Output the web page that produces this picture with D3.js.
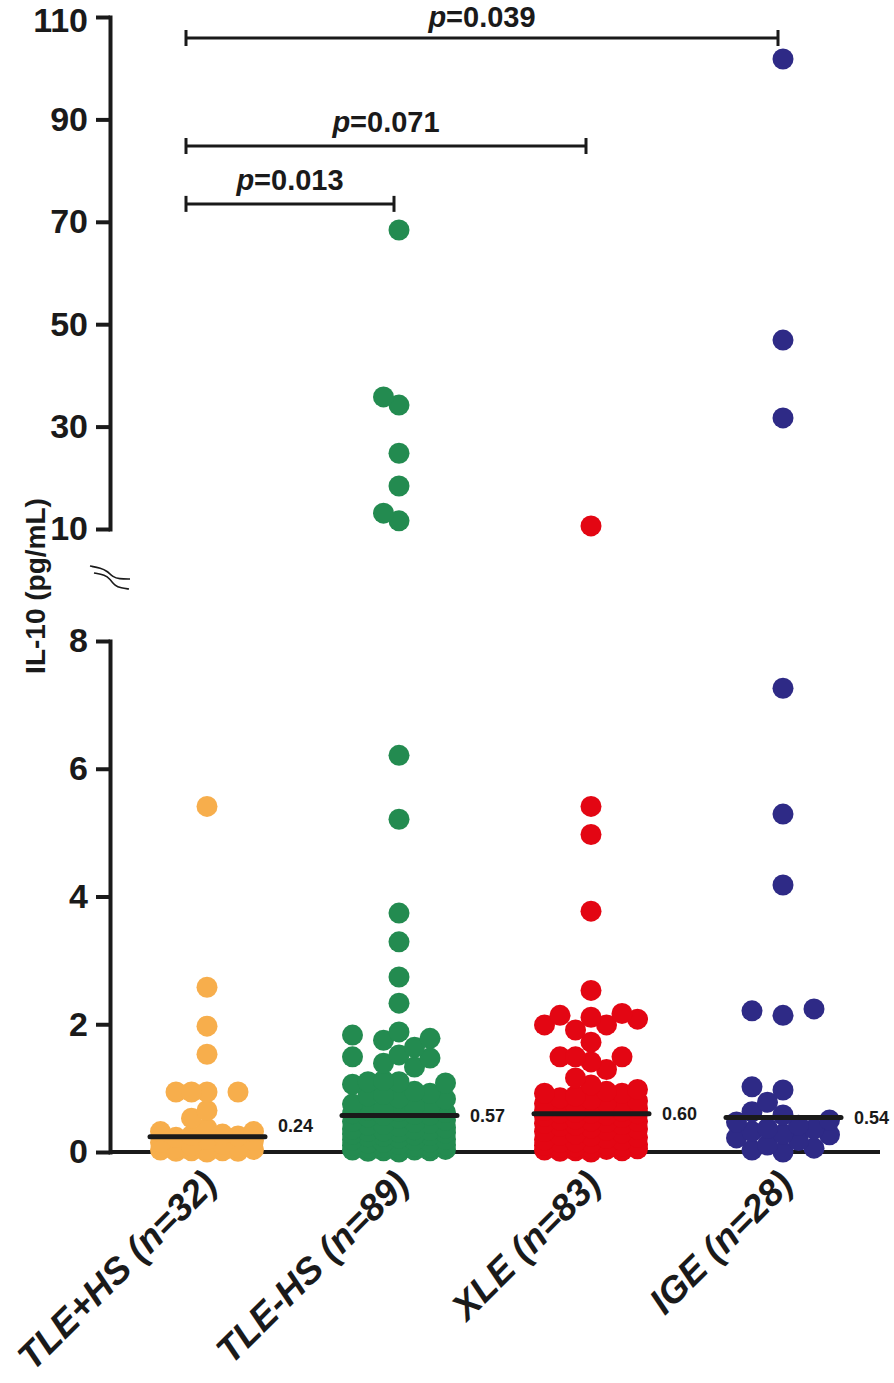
<!DOCTYPE html>
<html>
<head>
<meta charset="utf-8">
<script src="https://cdn.jsdelivr.net/npm/d3@7"></script>
<style>
  html, body { margin: 0; padding: 0; background: #ffffff; }
  svg { display: block; }
  text { font-family: "Liberation Sans", Arial, Helvetica, sans-serif; fill: #1a1a1a; }
</style>
</head>
<body>
<script>
// ---------------- data ----------------
const categories = ["TLE+HS (n=32)", "TLE-HS (n=89)", "XLE (n=83)", "IGE (n=28)"];

const tleHsPos = [5.41, 2.58, 1.97, 1.53, 0.94, 0.94, 0.94, 0.94, 0.65, 0.53, 0.37, 0.32, 0.32, 0.28, 0.26, 0.25,
  0.23, 0.20, 0.18, 0.15, 0.12, 0.10, 0.08, 0.06, 0.05, 0.04, 0.03, 0.02, 0.02, 0.01, 0.01, 0.00];

const tleHsNeg = [68.4, 35.8, 34.2, 24.8, 18.4, 13.1, 11.6,
  6.21, 5.21, 3.74, 3.29, 2.74, 2.33, 1.88, 1.83, 1.78, 1.75, 1.64, 1.52, 1.49, 1.47, 1.39, 1.33,
  1.12, 1.10, 1.10, 1.08, 1.06,
  0.95, 0.92, 0.90, 0.88, 0.85, 0.83,
  0.75, 0.72, 0.70, 0.68, 0.66, 0.64, 0.62, 0.60, 0.59, 0.58, 0.57,
  0.55, 0.53, 0.50, 0.48, 0.46, 0.45, 0.43, 0.42, 0.40, 0.38, 0.36, 0.35, 0.34, 0.33, 0.32,
  0.31, 0.30, 0.28, 0.27, 0.26, 0.25, 0.24, 0.22, 0.20, 0.19, 0.18, 0.16, 0.15, 0.14, 0.12,
  0.11, 0.10, 0.09, 0.08, 0.07, 0.06, 0.05, 0.04, 0.03, 0.03, 0.02, 0.02, 0.01, 0.00];

const xle = [10.6,
  5.41, 4.97, 3.77, 2.53,
  2.17, 2.14, 2.11, 2.08, 1.99, 1.99, 1.91, 1.72, 1.49, 1.49, 1.49, 1.41, 1.29, 1.16,
  1.05, 0.98, 0.95, 0.92, 0.92, 0.88, 0.85, 0.82, 0.80, 0.78, 0.76, 0.75, 0.73, 0.72, 0.70,
  0.68, 0.67, 0.65, 0.64, 0.62, 0.61, 0.61, 0.60,
  0.58, 0.56, 0.54, 0.52, 0.50, 0.49, 0.48, 0.46, 0.45, 0.43, 0.42, 0.40, 0.38, 0.36, 0.34,
  0.32, 0.30, 0.28, 0.26, 0.25, 0.23, 0.21, 0.19, 0.18, 0.16, 0.15, 0.14, 0.12, 0.11, 0.10,
  0.09, 0.08, 0.07, 0.06, 0.05, 0.04, 0.03, 0.02, 0.02, 0.01, 0.00];

const ige = [101.8, 46.9, 31.7, 7.26, 5.29, 4.18, 2.24, 2.21, 2.14, 1.02, 0.97, 0.78, 0.63, 0.58,
  0.50, 0.47, 0.42, 0.37, 0.36, 0.32, 0.28, 0.27, 0.22, 0.18, 0.11, 0.06, 0.03, 0.00];

const groupValues = [tleHsPos, tleHsNeg, xle, ige];
const medians = [0.24, 0.57, 0.60, 0.54];
const colors = ["#F7AE4C", "#238B50", "#E30613", "#2E2A86"];

const lowerTicks = [0, 2, 4, 6, 8];
const upperTicks = [10, 30, 50, 70, 90, 110];

const comparisons = [
  { from: 0, to: 3, y: 105.9, p: "0.039" },
  { from: 0, to: 2, y: 84.8, p: "0.071" },
  { from: 0, to: 1, y: 73.5, p: "0.013" }
];

// ---------------- layout ----------------
const W = 894, H = 1383;
const axisX = 110;
const yLow = d3.scaleLinear().domain([0, 8]).range([1152, 641]);
const yHigh = d3.scaleLinear().domain([10, 110]).range([529, 17]);
const y = v => (v <= 8 ? yLow(v) : yHigh(v));
const x = d3.scalePoint().domain(categories).range([207, 783]);

const ink = "#1a1a1a";
const ASCENT = 0.905; // font ascent ratio, keeps top texts inside the canvas
const svg = d3.select("body").append("svg").attr("width", W).attr("height", H);
svg.append("rect").attr("width", W).attr("height", H).attr("fill", "#fff");

// y axes (broken)
const tickFont = 34;
function styleAxis(g) {
  g.select(".domain").attr("stroke", ink).attr("stroke-width", 4).attr("stroke-linecap", "square");
  g.selectAll(".tick line").attr("stroke", ink).attr("stroke-width", 4);
  g.selectAll(".tick text").attr("fill", ink)
    .style("font-size", tickFont + "px").style("font-weight", "bold")
    .style("font-family", '"Liberation Sans", Arial, Helvetica, sans-serif');
}
svg.append("g").attr("transform", `translate(${axisX},0)`)
  .call(d3.axisLeft(yLow).tickValues(lowerTicks).tickSize(14).tickPadding(8).tickSizeOuter(0).tickFormat(d3.format("d")))
  .call(styleAxis);
const gHigh = svg.append("g").attr("transform", `translate(${axisX},0)`)
  .call(d3.axisLeft(yHigh).tickValues(upperTicks).tickSize(14).tickPadding(8).tickSizeOuter(0).tickFormat(d3.format("d")))
  .call(styleAxis);
// keep the topmost tick label inside the canvas
gHigh.selectAll(".tick").each(function (d) {
  const baseline = yHigh(d) + 0.32 * tickFont;
  const minBase = ASCENT * tickFont + 0.5;
  if (baseline < minBase) d3.select(this).select("text").attr("y", minBase - baseline);
});

// axis-break squiggle
const breakMid = (yLow(8) + yHigh(10)) / 2;
const sq = d3.line().curve(d3.curveBasis).x(d => axisX + d[0]).y(d => breakMid + d[1]);
const sq1 = [[-20, -19], [-9, -17], [-3, -14], [3, -8], [9, -6], [20, -6]];
const sq2 = [[-16, -12], [-5, -10], [0, -6], [5, 1], [11, 3], [19, 4]];
[sq1, sq2].forEach(pts => {
  svg.append("path").attr("d", sq(pts)).attr("fill", "none").attr("stroke", ink).attr("stroke-width", 1.6);
});

// x axis line
svg.append("line").attr("x1", axisX).attr("x2", 880).attr("y1", yLow(0)).attr("y2", yLow(0))
  .attr("stroke", ink).attr("stroke-width", 4);

// y label
svg.append("text")
  .attr("transform", `translate(45,${586}) rotate(-90)`)
  .attr("text-anchor", "middle")
  .style("font-size", "28px").style("font-weight", "bold")
  .text("IL-10 (pg/mL)");

// swarm layout (GraphPad-like column scatter)
const R = 10.5, colStep = 15.5, minDist = 17;
const colOrder = [0, -1, 1, -2, 2, -3, 3];
function swarm(values, cx) {
  const pts = values.map(v => ({ v, py: y(v) })).sort((a, b) => b.py - a.py);
  const placed = [];
  for (const p of pts) {
    let best = 0, bestD = -1;
    for (const k of colOrder) {
      const px = cx + k * colStep;
      let md = Infinity;
      for (const q of placed) {
        const d = Math.hypot(q.px - px, q.py - p.py);
        if (d < md) md = d;
      }
      if (md >= minDist) { best = k; bestD = md; break; }
      if (md > bestD + 1e-9) { bestD = md; best = k; }
    }
    p.px = cx + best * colStep;
    placed.push(p);
  }
  return placed;
}

categories.forEach((c, i) => {
  const pts = swarm(groupValues[i], x(c));
  svg.append("g").selectAll("circle").data(pts).join("circle")
    .attr("cx", d => d.px).attr("cy", d => d.py).attr("r", R)
    .attr("fill", colors[i]);
});

// median lines + labels
categories.forEach((c, i) => {
  const my = yLow(medians[i]);
  svg.append("line").attr("x1", x(c) - 57).attr("x2", x(c) + 58).attr("y1", my).attr("y2", my)
    .attr("stroke", ink).attr("stroke-width", 5).attr("stroke-linecap", "round");
  svg.append("text").attr("x", x(c) + 71).attr("y", Math.min(my + 2, yLow(0) - 25))
    .attr("dominant-baseline", "middle")
    .style("font-size", "18px").style("font-weight", "bold")
    .text(medians[i].toFixed(2));
});

// significance brackets
const pFont = 29;
comparisons.forEach(cmp => {
  const x1 = x(categories[cmp.from]) - 21;
  const x2 = x(categories[cmp.to]) - 5;
  const by = yHigh(cmp.y);
  const g = svg.append("g").attr("stroke", ink).attr("stroke-width", 3);
  g.append("line").attr("x1", x1).attr("x2", x2).attr("y1", by).attr("y2", by);
  g.append("line").attr("x1", x1).attr("x2", x1).attr("y1", by - 8).attr("y2", by + 8);
  g.append("line").attr("x1", x2).attr("x2", x2).attr("y1", by - 8).attr("y2", by + 8);
  const ty = Math.max(by - 14, ASCENT * pFont + 0.5);
  const t = svg.append("text").attr("x", (x1 + x2) / 2).attr("y", ty)
    .attr("text-anchor", "middle").style("font-size", pFont + "px").style("font-weight", "bold");
  t.append("tspan").style("font-style", "italic").text("p");
  t.append("tspan").text("=" + cmp.p);
});

// category labels
categories.forEach(c => {
  svg.append("text")
    .attr("transform", `translate(${x(c) + 12},1186) rotate(-45)`)
    .attr("text-anchor", "end")
    .style("font-size", "37px").style("font-weight", "bold").style("font-style", "italic")
    .text(c);
});
</script>
</body>
</html>
